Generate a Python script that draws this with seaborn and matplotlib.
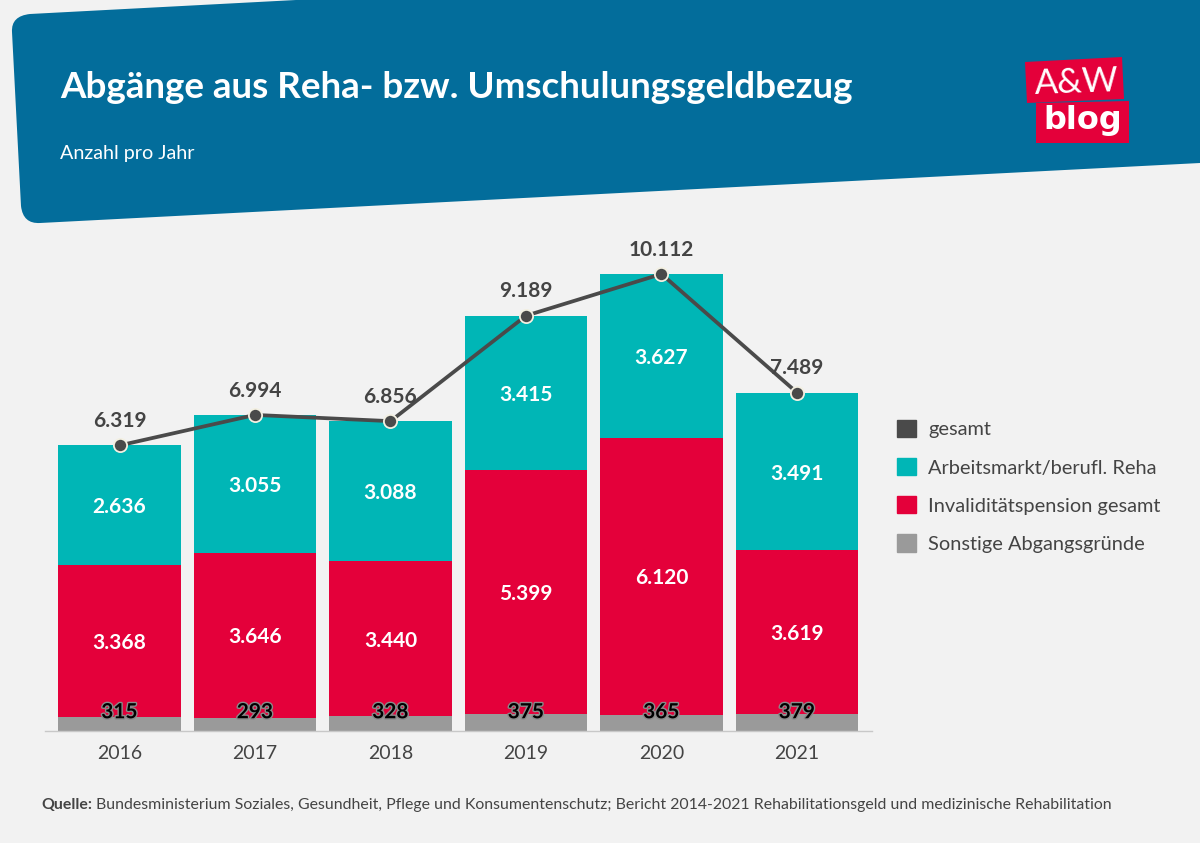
import matplotlib
matplotlib.use("Agg")
import matplotlib.pyplot as plt
import matplotlib.patheffects as pe
from matplotlib.patches import Patch, Polygon, PathPatch
from matplotlib.path import Path
import seaborn as sns

years = ["2016", "2017", "2018", "2019", "2020", "2021"]
sonstige = [315, 293, 328, 375, 365, 379]
invalid = [3368, 3646, 3440, 5399, 6120, 3619]
arbeit = [2636, 3055, 3088, 3415, 3627, 3491]
gesamt = [6319, 6994, 6856, 9189, 10112, 7489]

legend_labels = ["gesamt", "Arbeitsmarkt/berufl. Reha", "Invaliditätspension gesamt", "Sonstige Abgangsgründe"]

BG = "#f2f2f2"
BLUE = "#036d9b"
TEAL = "#00b6b6"
RED = "#e4003a"
GREY = "#9a9a9a"
DARK = "#4a4a4a"
TXT = "#444444"
BODY = ["Lato", "DejaVu Sans"]

sns.set_theme(style="white", rc={"figure.facecolor": BG, "axes.facecolor": BG})
plt.rcParams["font.family"] = BODY


def fmt(v):
    return f"{v:,}".replace(",", ".")


W, H = 1200, 843
fig = plt.figure(figsize=(12, 8.43), dpi=100)

# overlay in pixel coords for banner and logo
bg = fig.add_axes([0, 0, 1, 1], zorder=0)
bg.set_xlim(0, W)
bg.set_ylim(H, 0)
bg.axis("off")

banner = Path(
    [(12, 32), (11, 16), (30, 14), (296, 0), (1200, -10), (1200, 163), (40, 223), (23, 224), (21, 206), (12, 32)],
    [Path.MOVETO, Path.CURVE3, Path.CURVE3, Path.LINETO, Path.LINETO, Path.LINETO, Path.LINETO, Path.CURVE3, Path.CURVE3, Path.CLOSEPOLY],
)
bg.add_patch(PathPatch(banner, facecolor=BLUE, edgecolor="none"))
bg.add_patch(Polygon([(1025, 62), (1122, 57), (1124, 99), (1027, 103)], facecolor=RED, edgecolor="none"))
bg.add_patch(Polygon([(1036, 103), (1129, 101), (1129, 143), (1036, 143)], facecolor=RED, edgecolor="none"))
bg.text(1077, 83, "A&W", color="white", fontsize=25, ha="center", va="center", rotation=2)
bg.text(1083, 121, "blog", color="white", fontsize=23, fontweight="bold", ha="center", va="center", family=["DejaVu Sans"])

bg.text(60, 87, "Abgänge aus Reha- bzw. Umschulungsgeldbezug", color="white", fontsize=26.5, fontweight="bold", va="center")
bg.text(60, 153, "Anzahl pro Jahr", color="white", fontsize=14.2, va="center")

bg.text(41, 805, "Quelle:", color=TXT, fontsize=11.4, fontweight="bold", va="center")
bg.text(96, 805, "Bundesministerium Soziales, Gesundheit, Pflege und Konsumentenschutz; Bericht 2014-2021 Rehabilitationsgeld und medizinische Rehabilitation",
        color=TXT, fontsize=11.4, va="center")

# chart axes: baseline at 731 px, 10112 at 274 px
left, right, top, base = 45, 872, 231, 731
ax = fig.add_axes([left / W, 1 - base / H, (right - left) / W, (base - top) / H], zorder=1)
ax.patch.set_alpha(0)

bar_w = 0.905
bottom2 = [a + b for a, b in zip(sonstige, invalid)]
sns.barplot(x=years, y=sonstige, color=GREY, saturation=1, width=bar_w, linewidth=0, ax=ax)
sns.barplot(x=years, y=invalid, bottom=sonstige, color=RED, saturation=1, width=bar_w, linewidth=0, ax=ax)
sns.barplot(x=years, y=arbeit, bottom=bottom2, color=TEAL, saturation=1, width=bar_w, linewidth=0, ax=ax)
sns.lineplot(x=years, y=gesamt, color=DARK, linewidth=2.7, marker="o", markersize=9.5,
             markeredgecolor="#f3f0e2", markeredgewidth=1.3, sort=False, errorbar=None, ax=ax, zorder=5)

ax.set_xlim(-0.55, 5.554)
ax.set_ylim(0, 500 / (457 / 10112))
ax.set_xlabel("")
ax.set_ylabel("")
ax.set_yticks([])
ax.tick_params(axis="x", length=0, labelsize=14, labelcolor=TXT, pad=10)
sns.despine(ax=ax, left=True)
ax.spines["bottom"].set_color("#c8c8c8")
ax.spines["bottom"].set_linewidth(1)

for i in range(len(years)):
    ax.annotate(fmt(invalid[i]), (i, sonstige[i] + invalid[i] / 2), xytext=(0, -1.5), textcoords="offset points",
                color="white", fontsize=15, fontweight="bold", ha="center", va="center")
    ax.annotate(fmt(arbeit[i]), (i, bottom2[i] + arbeit[i] / 2), xytext=(0, -1.5), textcoords="offset points",
                color="white", fontsize=15, fontweight="bold", ha="center", va="center")
    ax.annotate(fmt(gesamt[i]), (i, gesamt[i]), xytext=(0, 17.5), textcoords="offset points", color=TXT,
                fontsize=15, fontweight="bold", ha="center", va="center", zorder=6)
    # small values all sit on one height in the original
    ax.annotate(fmt(sonstige[i]), (i, 0), xytext=(0, 13.5), textcoords="offset points", color="black",
                fontsize=15, fontweight="bold", ha="center", va="center",
                path_effects=[pe.withStroke(linewidth=2, foreground="#8a8a8a")])

handles = [Patch(color=DARK), Patch(color=TEAL), Patch(color=RED), Patch(color=GREY)]
fig.legend(handles, legend_labels, loc="upper left", bbox_to_anchor=(879 / W, 1 - 402 / H), frameon=False,
           fontsize=14.4, labelcolor=TXT, handlelength=0.95, handleheight=0.95, handletextpad=0.6, labelspacing=0.98)

fig.savefig("out.png", dpi=100, facecolor=BG)
